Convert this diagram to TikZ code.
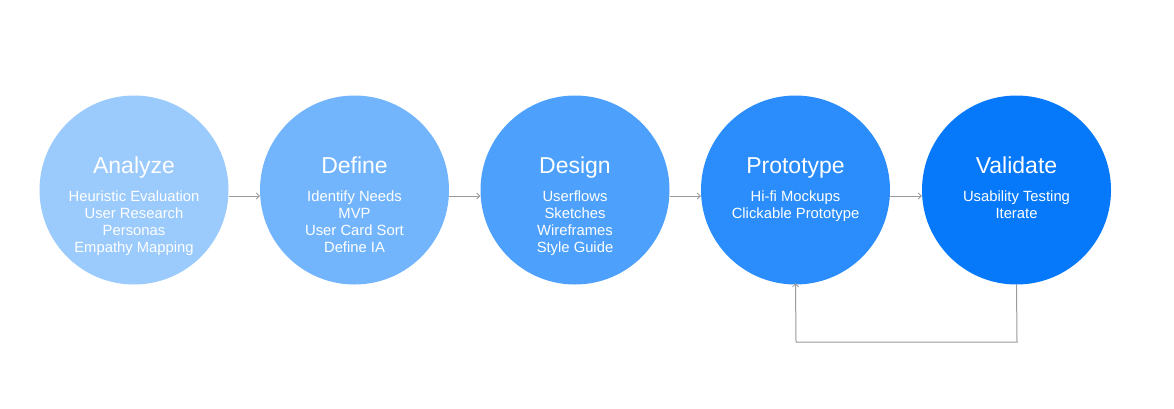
\documentclass[tikz,border=0pt]{standalone}
\usepackage{fontspec}
\setmainfont{Liberation Sans}
\usetikzlibrary{arrows.meta}
\definecolor{cA}{HTML}{9BCAFD}
\definecolor{cB}{HTML}{73B5FD}
\definecolor{cC}{HTML}{4DA1FC}
\definecolor{cD}{HTML}{2A8DFB}
\definecolor{cE}{HTML}{0579FA}
\definecolor{lineg}{HTML}{9A9A9A}
\begin{document}
\begin{tikzpicture}[x=1pt,y=-1pt,
  stage/.style={circle,minimum size=189pt,inner sep=0pt,draw=none},
  ttl/.style={text=white,font=\fontsize{23}{27}\selectfont,anchor=base,inner sep=0pt},
  body/.style={text=white,font=\fontsize{14.8}{17.3}\selectfont,align=center,anchor=base,inner sep=0pt},
  conn/.style={draw=lineg,line width=1pt,-{Straight Barb[length=3pt,width=6pt,line width=0.8pt]}}]
\useasboundingbox (0,0) rectangle (1174,408);
\foreach \n/\x/\c in {a/134/cA,b/354.5/cB,c/575/cC,d/795.5/cD,e/1016.5/cE}{
  \node[stage,fill=\c] (\n) at (\x,190) {};
}
\node[ttl] (ta) at (134,173) {Analyze};
\node[ttl] (tb) at (354.5,173) {Define};
\node[ttl] (tc) at (575,173) {Design};
\node[ttl] (td) at (795.5,173) {Prototype};
\node[ttl] (te) at (1016.5,173) {Validate};
% anchor=base of a multi-line node is the baseline of its last line
\node[body] (ba) at (134,252.9) {Heuristic Evaluation\\User Research\\Personas\\Empathy Mapping};
\node[body] (bb) at (354.5,252.9) {Identify Needs\\MVP\\User Card Sort\\Define IA};
\node[body] (bc) at (575,252.9) {Userflows\\Sketches\\Wireframes\\Style Guide};
\node[body] (bd) at (795.5,218.3) {Hi-fi Mockups\\Clickable Prototype};
\node[body] (be) at (1016.5,218.3) {Usability Testing\\Iterate};
\draw[conn] (a.east |- 0,196) -- (b.west |- 0,196);
\draw[conn] (b.east |- 0,196) -- (c.west |- 0,196);
\draw[conn] (c.east |- 0,196) -- (d.west |- 0,196);
\draw[conn] (d.east |- 0,196) -- (e.west |- 0,196);
\coordinate (fb) at (1017,342);
\coordinate (fa) at (796,342);
\draw[conn] (e.south) -- (fb) -- (fa) -- ([yshift=1.5pt]d.south);
\end{tikzpicture}
\end{document}
